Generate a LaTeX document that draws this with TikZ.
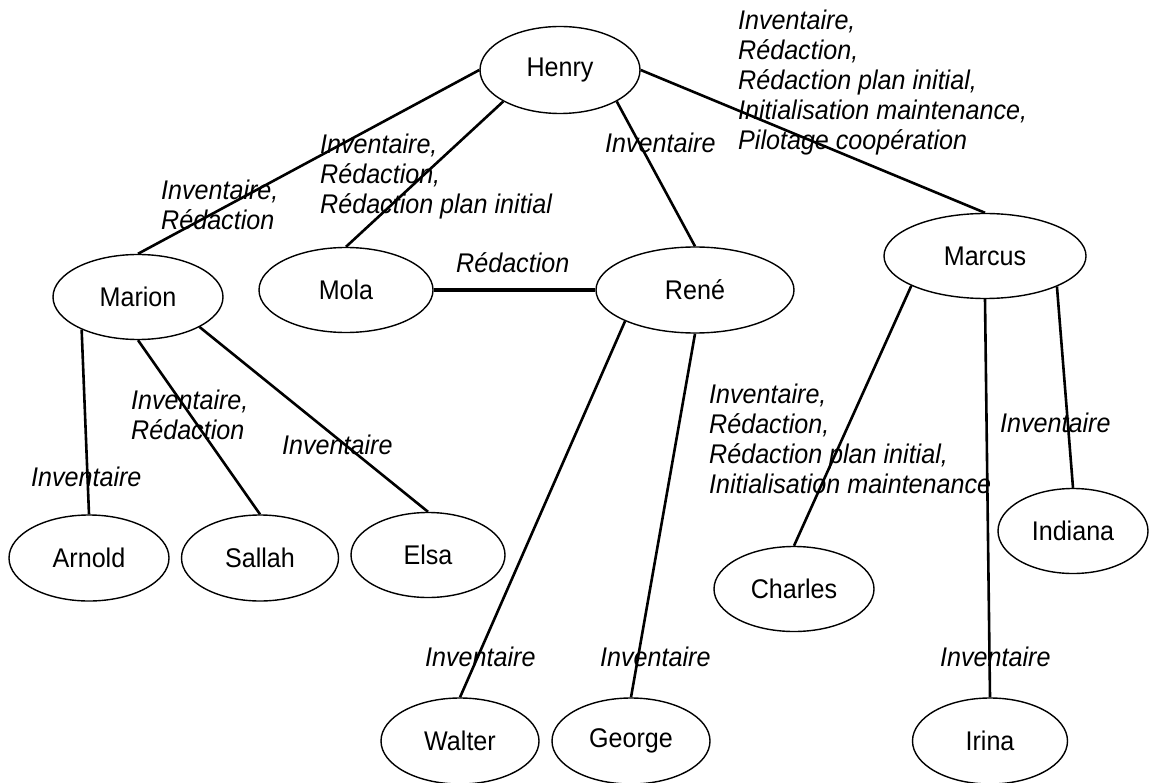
\documentclass[tikz,border=0pt]{standalone}
\usepackage{fontspec}
\setmainfont{Liberation Sans}
\newfontfamily\diagfont{Liberation Sans}[FakeStretch=0.93]
\usetikzlibrary{shapes.geometric}
\begin{document}
\begin{tikzpicture}[x=1pt,y=-1pt,
  person/.style={draw, ellipse, line width=1.4pt, inner sep=0pt,
    font=\diagfont\fontsize{27}{30}\selectfont},
  link/.style={line width=2.6pt},
  lab/.style={font=\diagfont\itshape\fontsize{27}{30}\selectfont, align=left, inner sep=0pt, anchor=west}]
\useasboundingbox (0,0) rectangle (1150,783);
% nodes
\node[person, minimum width=160pt, minimum height=87pt] (henry) at (560,70) {Henry};
\node[person, minimum width=170pt, minimum height=85pt] (marion) at (138,297) {Marion};
\node[person, minimum width=174pt, minimum height=85pt] (mola) at (346,290) {Mola};
\node[person, minimum width=198pt, minimum height=86pt] (rene) at (695,290) {René};
\node[person, minimum width=202pt, minimum height=85pt] (marcus) at (985,256) {Marcus};
\node[person, minimum width=160pt, minimum height=86pt] (arnold) at (89,558) {Arnold};
\node[person, minimum width=157pt, minimum height=86pt] (sallah) at (260,558) {Sallah};
\node[person, minimum width=154pt, minimum height=85pt] (elsa) at (428,555) {Elsa};
\node[person, minimum width=160pt, minimum height=85pt] (charles) at (794,589) {Charles};
\node[person, minimum width=150pt, minimum height=85pt] (indiana) at (1073,531) {Indiana};
\node[person, minimum width=158pt, minimum height=86pt] (walter) at (460,741) {Walter};
\node[person, minimum width=158pt, minimum height=86pt] (george) at (631,741) {George};
\node[person, minimum width=155pt, minimum height=86pt] (irina) at (990,741) {Irina};
% connectors
\draw[link] (henry.west) -- (marion.north);
\draw[link] (henry.209) -- (mola.north);
\draw[link] (henry.-29) -- (rene.north);
\draw[link] (henry.east) -- (marcus.north);
\draw[link, line width=3.4pt] (mola.east) -- (rene.west);
\draw[link] (marion.210) -- (arnold.north);
\draw[link] (marion.south) -- (sallah.north);
\draw[link] (marion.-26) -- (elsa.north);
\draw[link] (rene.204) -- (walter.north);
\draw[link] (rene.south) -- (george.north);
\draw[link] (marcus.202) -- (charles.north);
\draw[link] (marcus.south) -- (irina.north);
\draw[link] (marcus.-23) -- (indiana.north);
% labels
\node[lab] (l1) at (738,83) {Inventaire,\\Rédaction,\\Rédaction plan initial,\\Initialisation maintenance,\\Pilotage coopération};
\node[lab] (l2) at (605,143) {Inventaire};
\node[lab] (l3) at (320,177) {Inventaire,\\Rédaction,\\Rédaction plan initial};
\node[lab] (l4) at (161,205) {Inventaire,\\Rédaction};
\node[lab] (l5) at (456,263) {Rédaction};
\node[lab] (l6) at (31,477) {Inventaire};
\node[lab] (l7) at (131,415) {Inventaire,\\Rédaction};
\node[lab] (l8) at (282,445) {Inventaire};
\node[lab] (l9) at (425,657) {Inventaire};
\node[lab] (l10) at (600,657) {Inventaire};
\node[lab] (l11) at (709,439) {Inventaire,\\Rédaction,\\Rédaction plan initial,\\Initialisation maintenance};
\node[lab] (l12) at (1000,423) {Inventaire};
\node[lab] (l13) at (940,657) {Inventaire};
\end{tikzpicture}
\end{document}
